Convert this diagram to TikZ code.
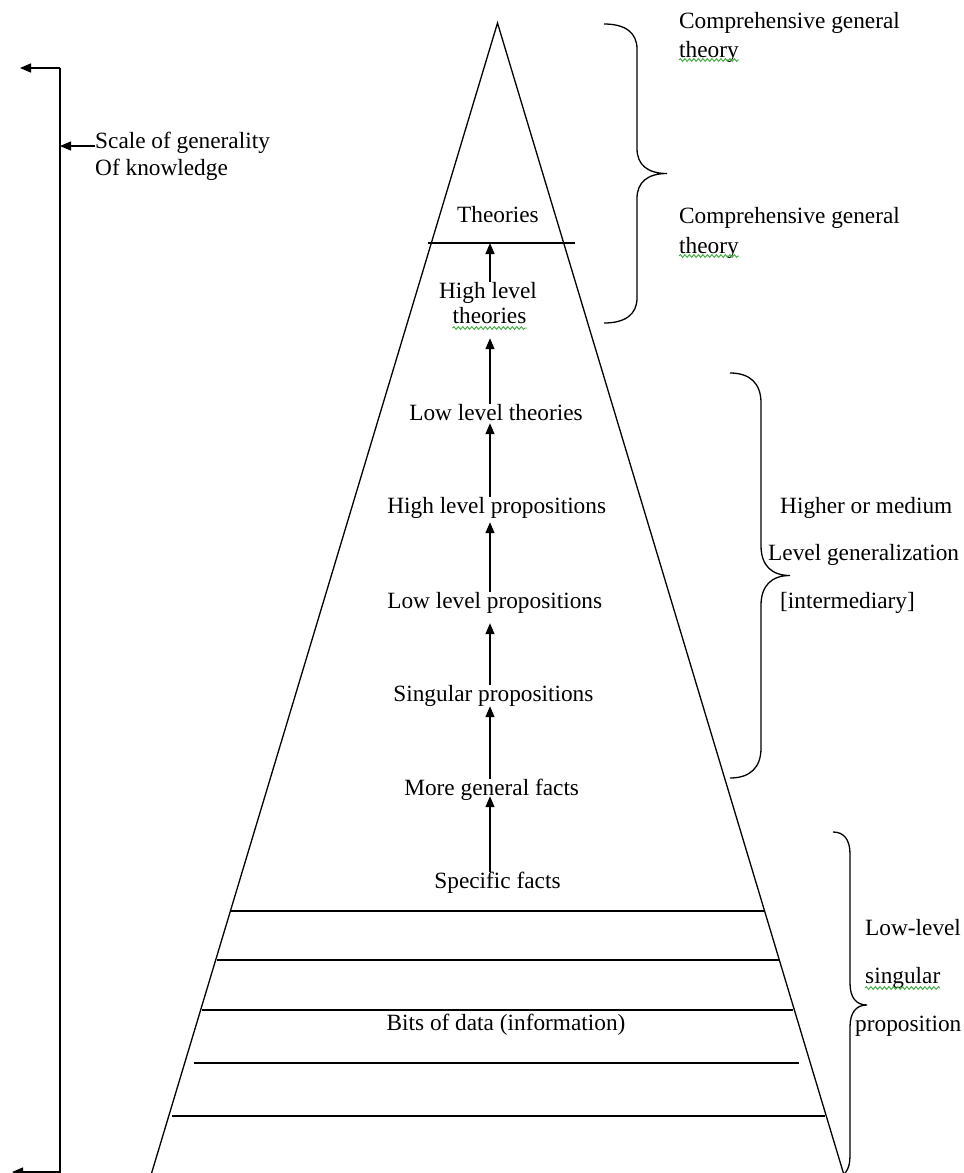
\documentclass[tikz,border=0pt]{standalone}
\usepackage{fontspec}
\setmainfont{Liberation Serif}
\usetikzlibrary{arrows.meta,calc,decorations.pathmorphing}
\definecolor{sqgreen}{RGB}{60,170,60}
% x0 x1 x2 ytop ybot c
\newcommand\mybrace[6]{%
 \draw[ln] (#1,#4) .. controls ({#1+0.65*(#2-#1)},#4) and (#2,{#4+0.35*#6}) .. (#2,{#4+#6})
 -- (#2,{(#4+#5)/2-#6}) .. controls (#2,{(#4+#5)/2-0.35*#6}) and ({#2+0.35*(#3-#2)},{(#4+#5)/2}) .. (#3,{(#4+#5)/2})
 .. controls ({#2+0.35*(#3-#2)},{(#4+#5)/2}) and (#2,{(#4+#5)/2+0.35*#6}) .. (#2,{(#4+#5)/2+#6})
 -- (#2,{#5-#6}) .. controls (#2,{#5-0.35*#6}) and ({#1+0.65*(#2-#1)},#5) .. (#1,#5);}
\begin{document}
\begin{tikzpicture}[x=1pt,y=-1pt,
 ln/.style={line width=1.3pt},
 arr/.style={line width=1.3pt,-{Triangle[length=11pt,width=9pt]}},
 lbl/.style={inner sep=0pt,text height=16pt,text depth=5pt,font=\fontsize{23.3pt}{26pt}\selectfont,anchor=base},
 lblw/.style={lbl,anchor=base west},
 squig/.style={draw=sqgreen,line width=0.9pt,decorate,decoration={snake,segment length=4.5pt,amplitude=1.4pt}}]
\useasboundingbox (0,0) rectangle (964,1173);

% pyramid
\coordinate (apex) at (497.5,23);
\coordinate (bl) at (149.5,1180);
\coordinate (br) at (845.5,1180);
\draw[ln,line join=miter] (bl) -- (apex) -- (br);
\coordinate (t0l) at (428,243); \coordinate (t0r) at (575,243);
\draw[ln] (t0l) -- (t0r);
\coordinate (l1l) at (231,911);  \coordinate (l1r) at (764,911);
\coordinate (l2l) at (217,960);  \coordinate (l2r) at (779,960);
\coordinate (l3l) at (202,1010); \coordinate (l3r) at (793,1010);
\coordinate (l4l) at (194,1063); \coordinate (l4r) at (799,1063);
\coordinate (l5l) at (172,1116); \coordinate (l5r) at (825,1116);
\draw[ln] (l1l) -- (l1r);
\draw[ln] (l2l) -- (l2r);
\draw[ln] (l3l) -- (l3r);
\draw[ln] (l4l) -- (l4r);
\draw[ln] (l5l) -- (l5r);

% level labels
\node[lbl] (theo) at (498,222.7) {Theories};
\node[lbl] (hltA) at (488,298) {High level};
\node[lbl] (hltB) at (489.5,323) {theories};
\node[lbl] (llt) at (496,420) {Low level theories};
\node[lbl] (hlp) at (496.7,513) {High level propositions};
\node[lbl] (llp) at (494.7,608) {Low level propositions};
\node[lbl] (sp) at (493.4,701) {Singular propositions};
\node[lbl] (mgf) at (491.7,795) {More general facts};
\node[lbl] (sf) at (497.5,888) {Specific facts};
\node[lbl] (bits) at (506,1030.5) {Bits of data (information)};

% upward arrows
\coordinate (ax) at (490,0);
\draw[arr] (hltA.north -| ax) -- (t0l -| ax);
\draw[arr] (llt.north -| ax) -- ($(hltB.south -| ax)+(0,10)$);
\draw[arr] (hlp.north -| ax) -- ($(llt.south -| ax)+(0,-2)$);
\draw[arr] (llp.north -| ax) -- ($(hlp.south -| ax)+(0,4)$);
\draw[arr] (sp.north -| ax) -- ($(llp.south -| ax)+(0,10)$);
\draw[arr] (mgf.north -| ax) -- (sp.south -| ax);
\draw[arr] (sf.north -| ax) -- ($(mgf.south -| ax)+(0,-4)$);

% left scale
\coordinate (axtop) at (60,68);
\coordinate (axbot) at (60,1180);
\coordinate (ltip) at (20,68);
\coordinate (axb2) at (60,1172);
\coordinate (lbtip) at (12,1172);
\draw[ln] (axtop) -- (axbot);
\draw[arr] (axtop) -- (ltip);
\draw[arr] (axb2) -- (lbtip);
\node[lblw] (sc1) at (95,148) {Scale of generality};
\node[lblw] (sc2) at (95,175) {Of knowledge};
\draw[arr] ($(sc1.base west)+(0,-2)$) -- ($(sc1.base west -| axtop)+(0,-2)$);

% braces
\mybrace{604}{637}{667}{24}{323}{25}
\mybrace{730}{761}{790}{373}{778}{30}
\mybrace{833}{850}{867}{832}{1178}{22}

% right labels
\node[lblw] (c1a) at (679,28) {Comprehensive general};
\node[lblw] (c1b) at (679,57) {theory};
\node[lblw] (c2a) at (679,223) {Comprehensive general};
\node[lblw] (c2b) at (679,253) {theory};
\node[lblw] (h1) at (780,513) {Higher or medium};
\node[lblw] (h2) at (768,560) {Level generalization};
\node[lblw] (h3) at (780,608) {[intermediary]};
\node[lblw] (w1) at (865,935) {Low-level};
\node[lblw] (w2) at (865,983) {singular};
\node[lblw] (w3) at (855,1031) {proposition};

% spell-check squiggles
\draw[squig] ($(c1b.base west)+(0,3)$) -- ($(c1b.base east)+(0,3)$);
\draw[squig] ($(c2b.base west)+(0,3)$) -- ($(c2b.base east)+(0,3)$);
\draw[squig] ($(hltB.base west)+(0,5)$) -- ($(hltB.base east)+(0,5)$);
\draw[squig] ($(w2.base west)+(0,5)$) -- ($(w2.base east)+(0,5)$);
\end{tikzpicture}
\end{document}
